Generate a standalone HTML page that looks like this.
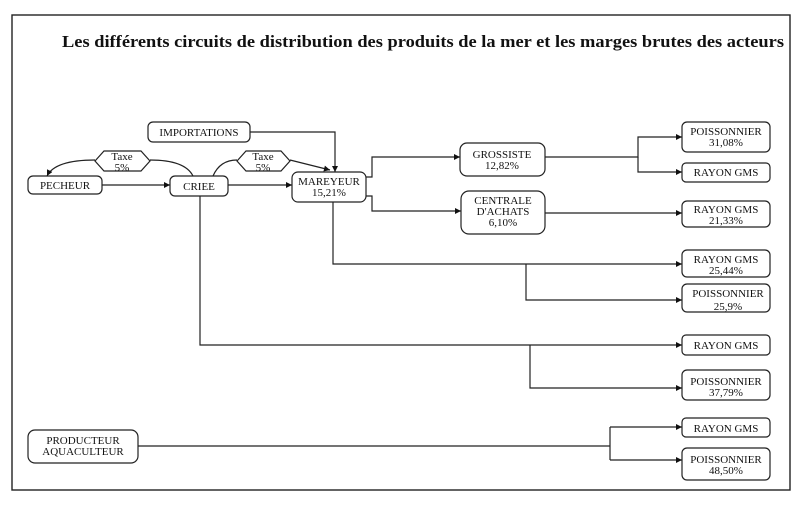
<!DOCTYPE html>
<html><head><meta charset="utf-8"><style>
html,body{margin:0;padding:0;background:#fff;}
svg{display:block;}
text{font-family:"Liberation Serif",serif;fill:#111;}
</style></head><body>
<svg width="799" height="513" viewBox="0 0 799 513" xmlns="http://www.w3.org/2000/svg">
<defs><marker id="a" viewBox="0 0 10 10" refX="10" refY="5" markerWidth="7" markerHeight="6" orient="auto" markerUnits="userSpaceOnUse"><path d="M0,0L10,5L0,10z" fill="#111"/></marker></defs>
<rect x="12" y="15" width="778" height="475" fill="none" stroke="#222" stroke-width="1.4"/>
<text x="423" y="47" text-anchor="middle" font-size="17" font-weight="bold" textLength="722" lengthAdjust="spacingAndGlyphs">Les différents circuits de distribution des produits de la mer et les marges brutes des acteurs</text>
<g fill="none" stroke="#222" stroke-width="1.2">
<rect x="148" y="122" width="102" height="20" rx="5"/>
<rect x="28" y="176" width="74" height="18" rx="5"/>
<rect x="170" y="176" width="58" height="20" rx="5"/>
<rect x="292" y="172" width="74" height="30" rx="6"/>
<rect x="460" y="143" width="85" height="33" rx="7"/>
<rect x="461" y="191" width="84" height="43" rx="8"/>
<rect x="682" y="122" width="88" height="30" rx="5"/>
<rect x="682" y="163" width="88" height="19" rx="4"/>
<rect x="682" y="201" width="88" height="26" rx="5"/>
<rect x="682" y="250" width="88" height="27" rx="5"/>
<rect x="682" y="284" width="88" height="28" rx="5"/>
<rect x="682" y="335" width="88" height="20" rx="4"/>
<rect x="682" y="370" width="88" height="30" rx="5"/>
<rect x="682" y="418" width="88" height="19" rx="4"/>
<rect x="682" y="448" width="88" height="32" rx="5"/>
<rect x="28" y="430" width="110" height="33" rx="7"/>
<path d="M95,161 L104,151 L141,151 L150,161 L141,171 L104,171 Z"/>
<path d="M237,161 L246,151 L281,151 L290,161 L281,171 L246,171 Z"/>
</g>
<g fill="none" stroke="#222" stroke-width="1.2">
<line x1="102" y1="185" x2="170" y2="185" marker-end="url(#a)"/>
<line x1="228" y1="185" x2="292" y2="185" marker-end="url(#a)"/>
<path d="M250,132 H335 V172" marker-end="url(#a)"/>
<path d="M193,176 Q185,160 150,160"/>
<path d="M95,160 Q55,160 47,176" marker-end="url(#a)"/>
<path d="M213,176 Q220,160 237,160"/>
<path d="M290,160 L330,170" marker-end="url(#a)"/>
<path d="M366,177 H372 V157 H460" marker-end="url(#a)"/>
<path d="M366,196 H372 V211 H461" marker-end="url(#a)"/>
<path d="M545,157 H638 V137 H682" marker-end="url(#a)"/>
<path d="M638,157 V172 H682" marker-end="url(#a)"/>
<line x1="545" y1="213" x2="682" y2="213" marker-end="url(#a)"/>
<path d="M333,202 V264 H682" marker-end="url(#a)"/>
<path d="M526,264 V300 H682" marker-end="url(#a)"/>
<path d="M200,196 V345 H682" marker-end="url(#a)"/>
<path d="M530,345 V388 H682" marker-end="url(#a)"/>
<path d="M138,446 H610"/>
<path d="M610,427 V460"/>
<line x1="610" y1="427" x2="682" y2="427" marker-end="url(#a)"/>
<line x1="610" y1="460" x2="682" y2="460" marker-end="url(#a)"/>
</g>
<g font-size="11" text-anchor="middle">
<text x="199" y="136">IMPORTATIONS</text>
<text x="65" y="189">PECHEUR</text>
<text x="199" y="190">CRIEE</text>
<text x="329" y="185">MAREYEUR</text><text x="329" y="196">15,21%</text>
<text x="122" y="160">Taxe</text><text x="122" y="171">5%</text>
<text x="263" y="160">Taxe</text><text x="263" y="171">5%</text>
<text x="502" y="158">GROSSISTE</text><text x="502" y="169">12,82%</text>
<text x="503" y="204">CENTRALE</text><text x="503" y="215">D'ACHATS</text><text x="503" y="226">6,10%</text>
<text x="726" y="135">POISSONNIER</text><text x="726" y="146">31,08%</text>
<text x="726" y="176">RAYON GMS</text>
<text x="726" y="213">RAYON GMS</text><text x="726" y="224">21,33%</text>
<text x="726" y="263">RAYON GMS</text><text x="726" y="274">25,44%</text>
<text x="728" y="297">POISSONNIER</text><text x="728" y="310">25,9%</text>
<text x="726" y="349">RAYON GMS</text>
<text x="726" y="385">POISSONNIER</text><text x="726" y="396">37,79%</text>
<text x="726" y="432">RAYON GMS</text>
<text x="726" y="463">POISSONNIER</text><text x="726" y="474">48,50%</text>
<text x="83" y="444">PRODUCTEUR</text><text x="83" y="455">AQUACULTEUR</text>
</g>
</svg>
</body></html>
